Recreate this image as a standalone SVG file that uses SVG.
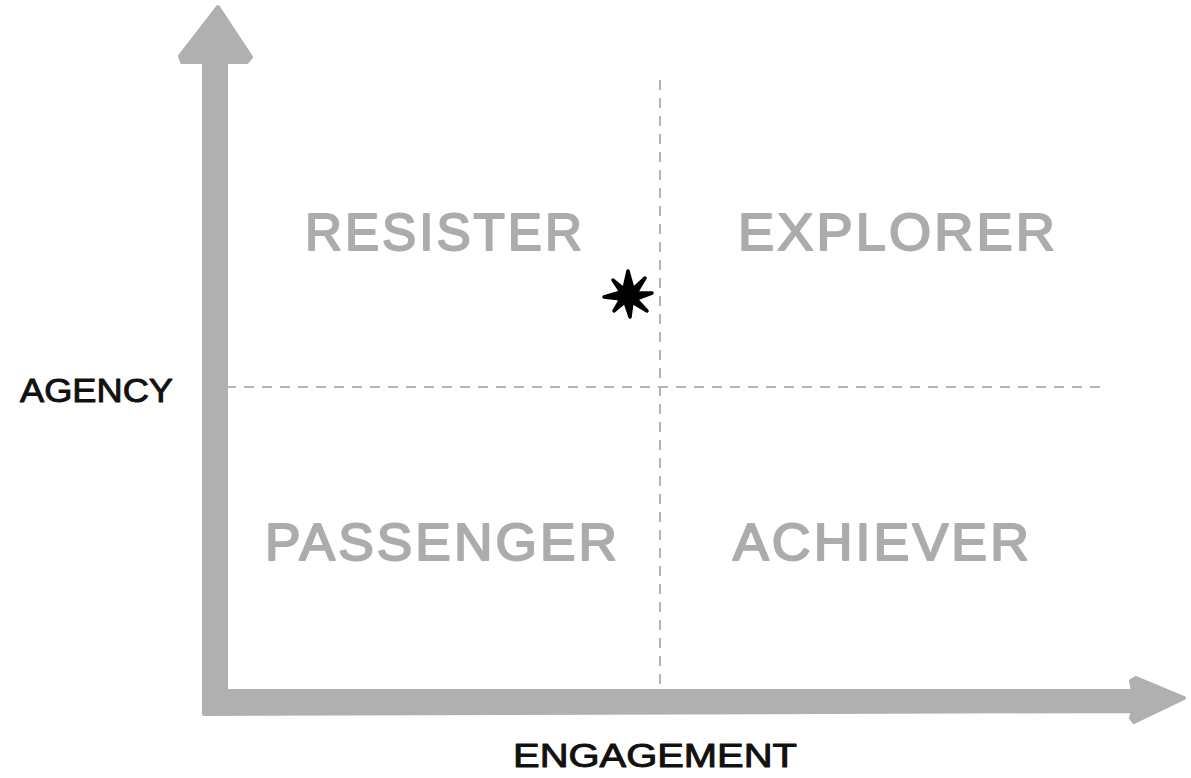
<svg xmlns="http://www.w3.org/2000/svg" width="1191" height="778" viewBox="0 0 1191 778">
<style>
.axis{fill:#b0b0b0;stroke:#b0b0b0;stroke-width:4;stroke-linejoin:round}
.dash{stroke:#b4b4b4;stroke-width:2;stroke-dasharray:10 8;fill:none}
.quad{font-family:"Liberation Sans",Arial,sans-serif;font-size:52px;fill:#acacac;stroke:#acacac;stroke-width:2;stroke-linejoin:round;letter-spacing:3px}
.lab{font-family:"Liberation Sans",Arial,sans-serif;font-size:34px;fill:#111;stroke:#111;stroke-width:1;stroke-linejoin:round}
</style>
<rect width="1191" height="778" fill="#fff"/>
<g id="connectors">
<line class="dash" x1="660" y1="80" x2="660" y2="690"/>
<line class="dash" x1="226" y1="387" x2="1100" y2="387"/>
</g>
<g id="y-axis">
<path class="axis" d="M204 712 L204 62 L182 62 L180 56 L218 7 L251 57 L247 62 L226 62 L226 690 Z"/>
</g>
<g id="x-axis">
<path class="axis" d="M204 691 L1133 691 L1131 681 L1136 678 L1184 698 L1134 722 L1131 718 L1133 711 L204 714 Z"/>
</g>
<g id="resister"><text class="quad" x="305" y="250" textLength="280" lengthAdjust="spacingAndGlyphs">RESISTER</text></g>
<g id="explorer"><text class="quad" x="738" y="250" textLength="320" lengthAdjust="spacingAndGlyphs">EXPLORER</text></g>
<g id="passenger"><text class="quad" x="265" y="560" textLength="355" lengthAdjust="spacingAndGlyphs">PASSENGER</text></g>
<g id="achiever"><text class="quad" x="733" y="560" textLength="299" lengthAdjust="spacingAndGlyphs">ACHIEVER</text></g>
<g id="agency"><text class="lab" x="20" y="402" textLength="153" lengthAdjust="spacingAndGlyphs">AGENCY</text></g>
<g id="engagement"><text class="lab" x="513" y="767" textLength="284" lengthAdjust="spacingAndGlyphs">ENGAGEMENT</text></g>
<g id="star" transform="translate(628,295)">
<path d="M0 -24 L5 -6 L17 -17 L8 -2 L24 -2 L8 4 L19 16 L4 7 L2 22 L-3 7 L-14 16 L-7 4 L-24 2 L-7 -3 L-15 -15 L-4 -6 Z" fill="#000" stroke="#000" stroke-width="3.5" stroke-linejoin="round"/>
</g>
</svg>
